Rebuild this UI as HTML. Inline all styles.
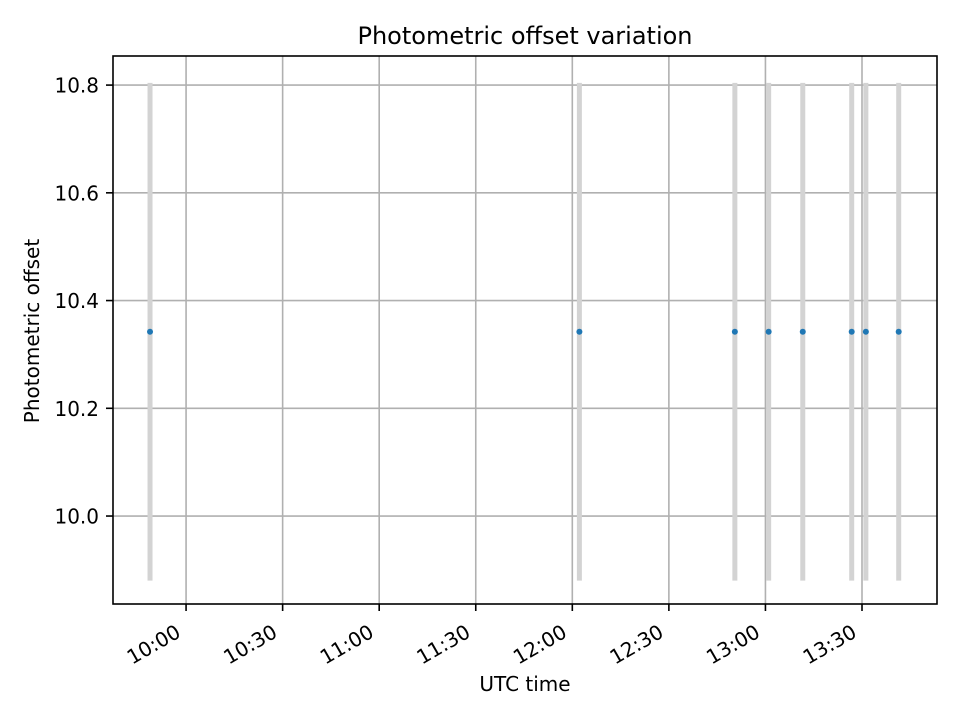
<!DOCTYPE html>
<html><head><meta charset="utf-8"><style>
body{margin:0;background:#fff;}
svg{font-family:"DejaVu Sans","Liberation Sans",sans-serif;}
</style></head><body>
<svg id="chart" width="960" height="720" viewBox="0 0 960 720" xmlns="http://www.w3.org/2000/svg">
<rect width="960" height="720" fill="#fff"/>
<g id="grid"></g><g id="marks"></g><g id="axes"></g>
<text x="525" y="44" font-size="24" text-anchor="middle">Photometric offset variation</text>
<text x="525" y="691" font-size="20" text-anchor="middle">UTC time</text>
<text transform="translate(39,331) rotate(-90)" font-size="20" text-anchor="middle">Photometric offset</text>
</svg>
<script>
const times = ["09:48.8","12:02.2","12:50.5","13:01.0","13:11.6","13:26.8","13:31.2","13:41.4"];
const offsets = [10.342,10.342,10.342,10.342,10.342,10.342,10.342,10.342];
const errors = [0.462,0.462,0.462,0.462,0.462,0.462,0.462,0.462];
const xTickLabels = ["10:00","10:30","11:00","11:30","12:00","12:30","13:00","13:30"];
const yTickLabels = ["10.0","10.2","10.4","10.6","10.8"];
const L=113,R=937,T=56,B=604;
function toMin(s){const [h,m]=s.split(":");return +h*60+parseFloat(m);}
const xMin=toMin("09:37.3"),xMax=toMin("13:53.3"),yMin=9.8367,yMax=10.854;
const X=v=>L+(toMin(v)-xMin)/(xMax-xMin)*(R-L);
const Y=v=>B-(v-yMin)/(yMax-yMin)*(B-T);
const NS="http://www.w3.org/2000/svg";
function mk(tag,attrs,parent){const e=document.createElementNS(NS,tag);for(const k in attrs)e.setAttribute(k,attrs[k]);document.getElementById(parent).appendChild(e);return e;}
xTickLabels.forEach(t=>{const x=X(t);
 const g=mk("line",{x1:x,x2:x,y1:T,y2:B,stroke:"#b0b0b0","stroke-width":1.6},"grid");
 
 
 mk("line",{x1:x,x2:x,y1:B,y2:B+7,stroke:"#000","stroke-width":1.6},"axes");
 const px=x-4, py=B+32;
 const tx=mk("text",{x:px,y:py,"font-size":20,"text-anchor":"end",transform:`rotate(-30 ${px} ${py})`},"axes");
 tx.textContent=t;
 
 
});
yTickLabels.forEach(t=>{const y=Y(+t);
 const g=mk("line",{x1:L,x2:R,y1:y,y2:y,stroke:"#b0b0b0","stroke-width":1.6},"grid");
 
 
 mk("line",{x1:L-7,x2:L,y1:y,y2:y,stroke:"#000","stroke-width":1.6},"axes");
 const tx=mk("text",{x:L-14,y:y+7.5,"font-size":20,"text-anchor":"end"},"axes");
 tx.textContent=t;
 
 
});
times.forEach((t,i)=>{const x=X(t);
 const eb=mk("line",{x1:x,x2:x,y1:Y(offsets[i]-errors[i]),y2:Y(offsets[i]+errors[i]),stroke:"#d3d3d3","stroke-width":5},"marks");
 
 
});
times.forEach((t,i)=>{
 const p=mk("circle",{cx:X(t),cy:Y(offsets[i]),r:3,fill:"#1f77b4"},"marks");
 
 
});
const f=mk("rect",{x:L,y:T,width:R-L,height:B-T,fill:"none",stroke:"#000","stroke-width":1.6},"axes");


</script>
</body></html>
